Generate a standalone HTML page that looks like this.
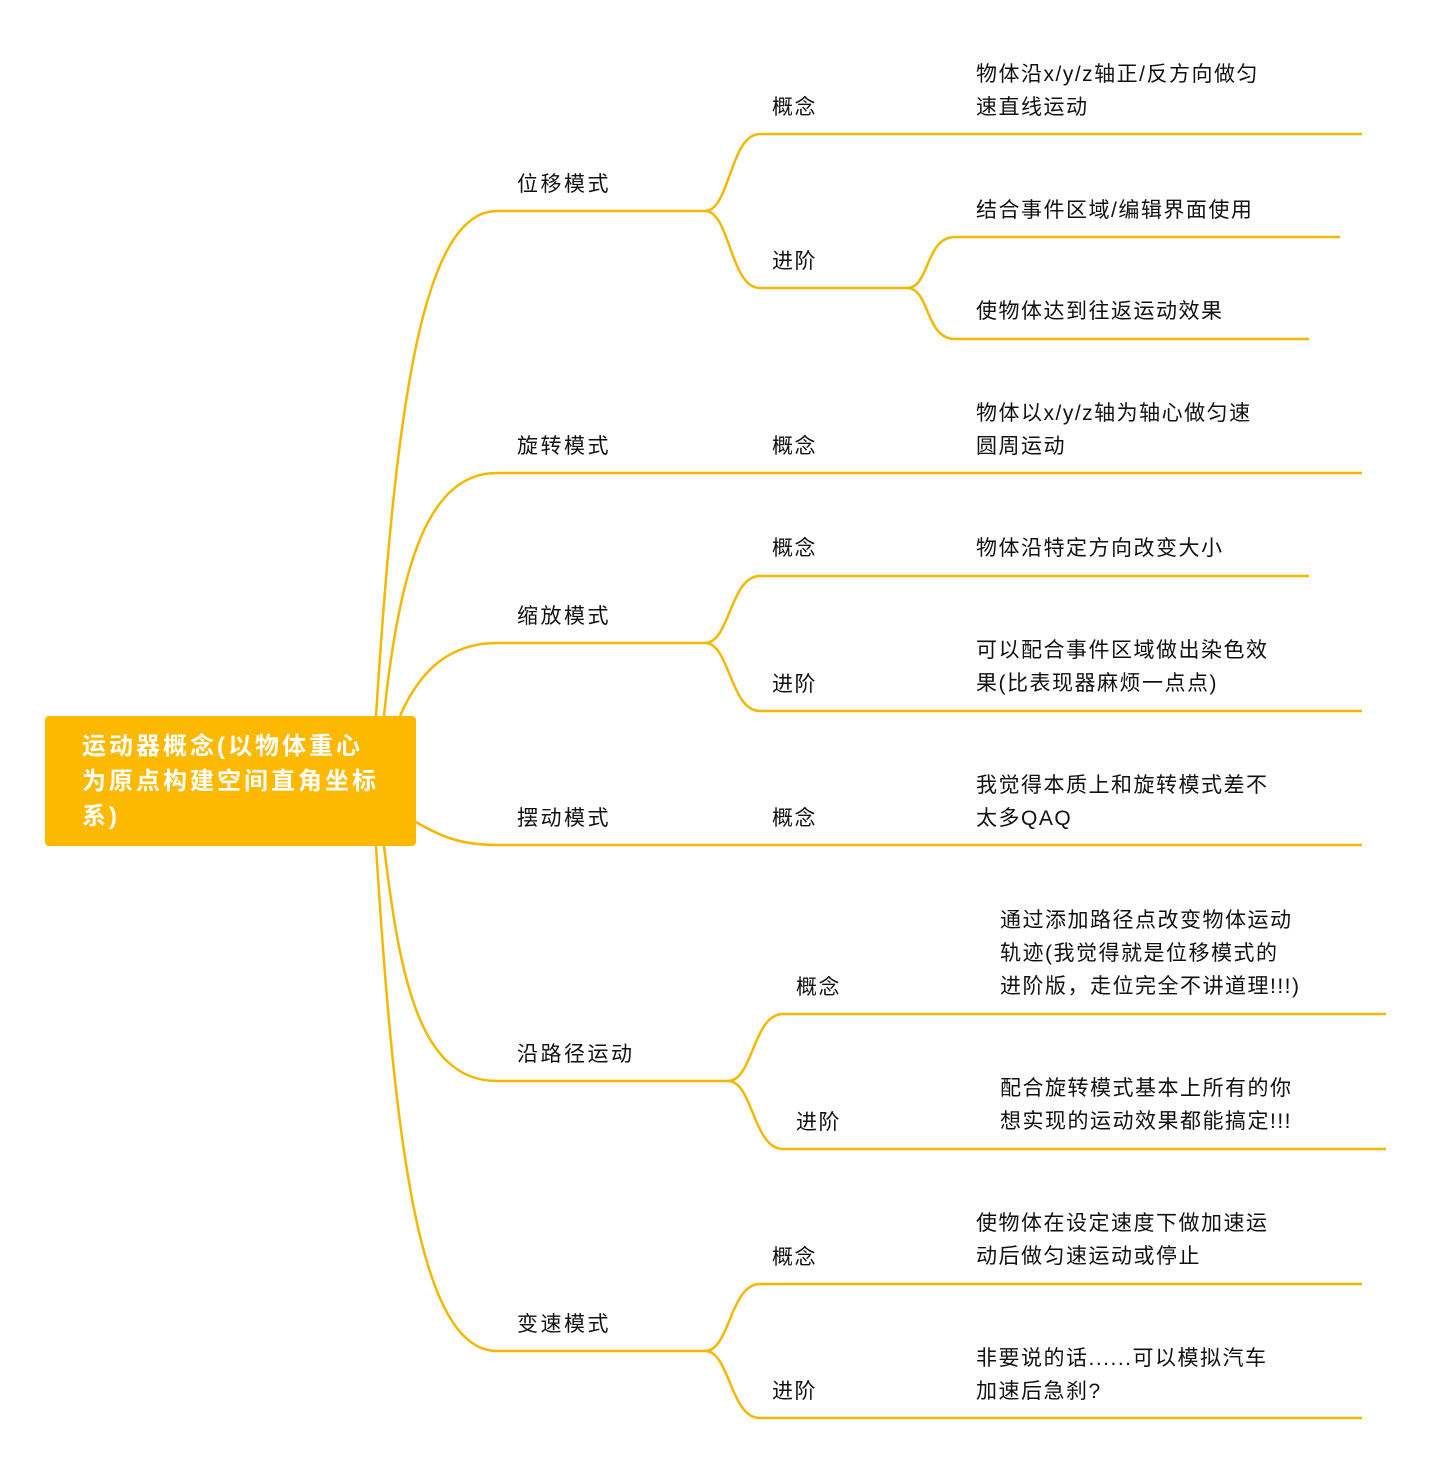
<!DOCTYPE html>
<html><head><meta charset="utf-8"><style>
body{margin:0;width:1432px;height:1465px;background:#fff;position:relative;font-family:"Liberation Sans","Noto Sans CJK SC",sans-serif;overflow:hidden}
.t{position:absolute;font-size:21px;letter-spacing:1.5px;color:#111;line-height:33px;white-space:nowrap;margin-top:2px}
.l1{letter-spacing:2.5px}
.root{position:absolute;left:45px;top:716px;width:371px;height:130px;background:#FDB800;border-radius:4px}
.root div{position:absolute;left:37px;top:13px;color:#fff;font-weight:bold;font-size:24px;letter-spacing:3px;line-height:35px;white-space:nowrap}
</style></head><body>
<svg width="1432" height="1465" style="position:absolute;left:0;top:0" fill="none" stroke="#F5B800" stroke-width="2.5">
<path d="M376 716 C395 420,420 211,497 211 L705 211"/>
<path d="M384 716 C400 560,430 473,497 473 L1362 473"/>
<path d="M400 716 C420 670,450 643,497 643 L705 643"/>
<path d="M416 822 C440 836,460 845,497 845 L1362 845"/>
<path d="M384 846 C400 980,420 1081,497 1081 L728 1081"/>
<path d="M376 846 C395 1150,420 1351,497 1351 L705 1351"/>
<path d="M705 211 C730 211,730 134,760 134 L1362 134"/>
<path d="M705 211 C730 211,730 288,760 288 L907 288"/>
<path d="M907 288 C930 288,925 237,955 237 L1340 237"/>
<path d="M907 288 C930 288,925 339,955 339 L1309 339"/>
<path d="M705 643 C730 643,730 576,760 576 L1309 576"/>
<path d="M705 643 C730 643,730 711,760 711 L1362 711"/>
<path d="M728 1081 C753 1081,753 1014,783 1014 L1386 1014"/>
<path d="M728 1081 C753 1081,753 1149,783 1149 L1386 1149"/>
<path d="M705 1351 C730 1351,730 1284,760 1284 L1362 1284"/>
<path d="M705 1351 C730 1351,730 1418,760 1418 L1362 1418"/>
</svg>
<div class="root"><div>运动器概念(以物体重心<br>为原点构建空间直角坐标<br>系)</div></div>
<div class="t l1" style="left:517px;top:166px">位移模式</div>
<div class="t l1" style="left:517px;top:428px">旋转模式</div>
<div class="t l1" style="left:517px;top:598px">缩放模式</div>
<div class="t l1" style="left:517px;top:800px">摆动模式</div>
<div class="t l1" style="left:517px;top:1036px">沿路径运动</div>
<div class="t l1" style="left:517px;top:1306px">变速模式</div>
<div class="t" style="left:772px;top:89px">概念</div>
<div class="t" style="left:772px;top:243px">进阶</div>
<div class="t" style="left:772px;top:428px">概念</div>
<div class="t" style="left:772px;top:530px">概念</div>
<div class="t" style="left:772px;top:666px">进阶</div>
<div class="t" style="left:772px;top:800px">概念</div>
<div class="t" style="left:796px;top:969px">概念</div>
<div class="t" style="left:796px;top:1104px">进阶</div>
<div class="t" style="left:772px;top:1239px">概念</div>
<div class="t" style="left:772px;top:1373px">进阶</div>
<div class="t" style="left:976px;top:56px">物体沿x/y/z轴正/反方向做匀<br>速直线运动</div>
<div class="t" style="left:976px;top:192px">结合事件区域/编辑界面使用</div>
<div class="t" style="left:976px;top:293px">使物体达到往返运动效果</div>
<div class="t" style="left:976px;top:395px">物体以x/y/z轴为轴心做匀速<br>圆周运动</div>
<div class="t" style="left:976px;top:530px">物体沿特定方向改变大小</div>
<div class="t" style="left:976px;top:632px">可以配合事件区域做出染色效<br>果(比表现器麻烦一点点)</div>
<div class="t" style="left:976px;top:767px">我觉得本质上和旋转模式差不<br>太多QAQ</div>
<div class="t" style="left:1000px;top:902px">通过添加路径点改变物体运动<br>轨迹(我觉得就是位移模式的<br>进阶版，走位完全不讲道理!!!)</div>
<div class="t" style="left:1000px;top:1070px">配合旋转模式基本上所有的你<br>想实现的运动效果都能搞定!!!</div>
<div class="t" style="left:976px;top:1205px">使物体在设定速度下做加速运<br>动后做匀速运动或停止</div>
<div class="t" style="left:976px;top:1340px">非要说的话......可以模拟汽车<br>加速后急刹?</div>
</body></html>
